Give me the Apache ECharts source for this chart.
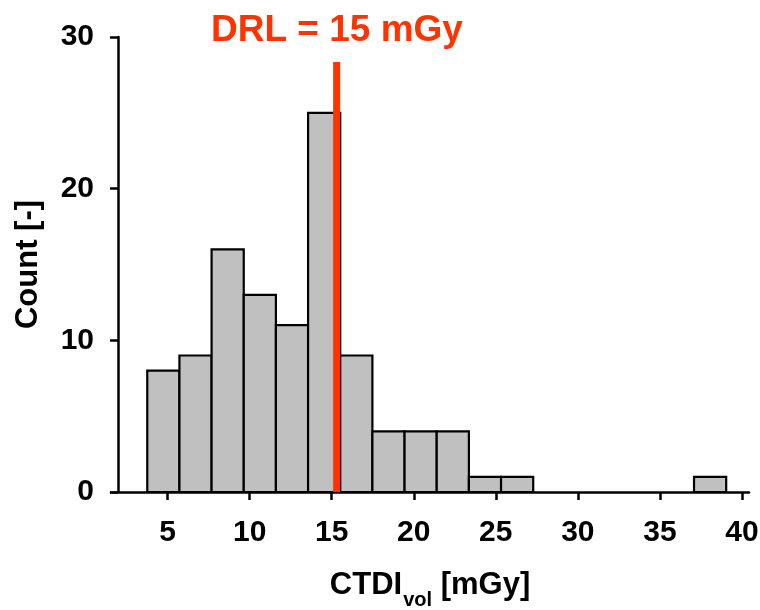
<!doctype html>
<html>
<head>
<meta charset="utf-8">
<title>CTDIvol histogram</title>
<script src="https://cdn.jsdelivr.net/npm/echarts@6/dist/echarts.min.js"></script>
</head>
<body style="margin:0">
<div id="container" style="width:760px;height:610px"></div>
<script>
// histogram bins (left edge, mGy) and counts
var binStarts = [3.76, 5.72, 7.68, 9.64, 11.6, 13.56, 15.52, 17.48, 19.44, 21.4, 23.36, 25.32, 27.28, 29.24, 31.2, 33.16, 35.12, 37.08];
var binWidth = 1.96;
var counts = [8, 9, 16, 13, 11, 25, 9, 4, 4, 4, 1, 1, 0, 0, 0, 0, 0, 1];
var xTicks = [5, 10, 15, 20, 25, 30, 35, 40];
var drlX = 15.3;
var drlTop = 28.35;
var drlText = 'DRL = 15 mGy';

var font = '"Liberation Sans", Arial, sans-serif';

var histData = [];
for (var i = 0; i < counts.length; i++) {
  if (counts[i] > 0) histData.push([binStarts[i], binStarts[i] + binWidth, counts[i]]);
}

var myChart = echarts.init(document.getElementById('container'));

var option = {
  animation: false,
  grid: { left: 111, right: 11, top: 37, bottom: 118, outerBoundsMode: 'none' },
  graphic: [{
    type: 'text',
    left: 211,
    top: 12,
    style: { text: drlText, fill: '#FF3300', font: 'bold 37px ' + font }
  }],
  xAxis: {
    type: 'value',
    min: 1.55,
    max: 40.43,
    splitLine: { show: false },
    axisLine: { lineStyle: { color: '#000', width: 2.5 } },
    axisTick: { show: true, length: 8, customValues: xTicks, lineStyle: { color: '#000', width: 2.5 } },
    axisLabel: { customValues: xTicks, color: '#000', fontSize: 30, fontWeight: 'bold', fontFamily: font, margin: 26 },
    name: '{a|CTDI}{b|vol}{a| [mGy]}',
    nameLocation: 'middle',
    nameGap: 78,
    nameTextStyle: {
      rich: {
        a: { fontSize: 31, fontWeight: 'bold', fontFamily: font, color: '#000', lineHeight: 32, verticalAlign: 'top' },
        b: { fontSize: 20, fontWeight: 'bold', fontFamily: font, color: '#000', lineHeight: 20, verticalAlign: 'top', padding: [20, 0, 0, 1] }
      }
    }
  },
  yAxis: {
    type: 'value',
    min: 0,
    max: 30,
    interval: 10,
    offset: -7,
    splitLine: { show: false },
    axisLine: { show: true, lineStyle: { color: '#000', width: 2.5 } },
    axisTick: { show: true, length: 8, lineStyle: { color: '#000', width: 2.5 } },
    axisLabel: { color: '#000', fontSize: 30, fontWeight: 'bold', fontFamily: font, margin: 24 },
    name: 'Count [-]',
    nameLocation: 'middle',
    nameGap: 74,
    nameTextStyle: { fontSize: 31, fontWeight: 'bold', fontFamily: font, color: '#000' }
  },
  series: [{
    type: 'custom',
    data: histData,
    encode: { x: [0, 1], y: 2 },
    renderItem: function (params, api) {
      var p0 = api.coord([api.value(0), api.value(2)]);
      var p1 = api.coord([api.value(1), 0]);
      return {
        type: 'rect',
        shape: { x: p0[0], y: p0[1], width: p1[0] - p0[0], height: p1[1] - p0[1] },
        style: { fill: '#C0C0C0', stroke: '#000', lineWidth: 2.2 }
      };
    }
  }, {
    type: 'line',
    data: [[drlX, 0], [drlX, drlTop]],
    showSymbol: false,
    symbol: 'none',
    lineStyle: { color: '#FF3300', width: 7, cap: 'butt' },
    z: 5
  }]
};

myChart.setOption(option);
</script>
</body>
</html>
